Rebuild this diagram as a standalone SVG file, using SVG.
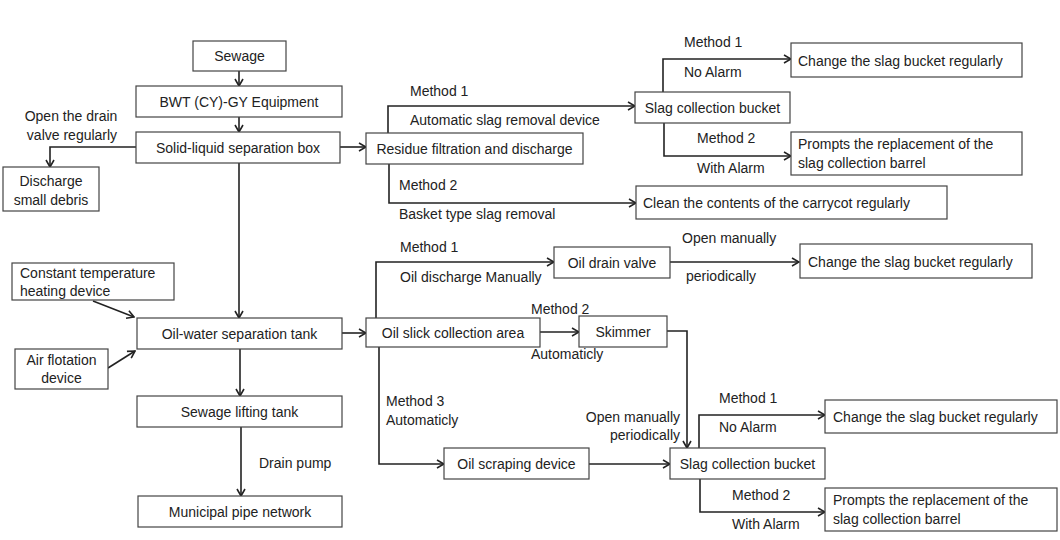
<svg xmlns="http://www.w3.org/2000/svg" width="1060" height="540" viewBox="0 0 1060 540">
<defs>
<marker id="arr" viewBox="0 0 10 10" refX="9" refY="5" markerWidth="10" markerHeight="10" orient="auto" markerUnits="userSpaceOnUse">
<path d="M2,1 L9,5 L2,9" fill="none" stroke="#222" stroke-width="1.6"/>
</marker>
</defs>
<style>
rect{fill:#fff;stroke:#444;stroke-width:1.2}
text{font-family:"Liberation Sans",Arial,sans-serif;font-size:14px;fill:#222}
.c{text-anchor:middle}
.r{text-anchor:end}
#connectors path{fill:none;stroke:#222;stroke-width:1.6;marker-end:url(#arr)}
</style>
<rect x="0" y="0" width="1060" height="540" style="fill:#fff;stroke:none"/>
<g id="connectors">
<path d="M239,71 L239,86"/>
<path d="M239,117 L239,132"/>
<path d="M136,147 L50,147 L50,167"/>
<path d="M340,147 L366,147"/>
<path d="M239,163 L239,318"/>
<path d="M388,133 L388,106 L635,106"/>
<path d="M389,164 L389,203 L636,203"/>
<path d="M663,92 L663,59 L791,59"/>
<path d="M664,123 L664,156 L791,156"/>
<path d="M93,301 L134,317"/>
<path d="M108,368 L135,351"/>
<path d="M240,349 L240,396"/>
<path d="M241,427 L241,496"/>
<path d="M342,333 L366,333"/>
<path d="M376,318 L376,262 L554,262"/>
<path d="M540,332 L579,332"/>
<path d="M379,347 L379,464 L444,464"/>
<path d="M670,262 L799,262"/>
<path d="M667,331 L687,331 L687,448"/>
<path d="M589,464 L670,464"/>
<path d="M699,448 L699,415 L825,415"/>
<path d="M700,479 L700,512 L825,512"/>
</g>
<g id="labels">
<text x="71" y="121" class="c">Open the drain</text>
<text x="72" y="140" class="c">valve regularly</text>
<text x="410" y="96">Method 1</text>
<text x="410" y="125">Automatic slag removal device</text>
<text x="399" y="190">Method 2</text>
<text x="399" y="219">Basket type slag removal</text>
<text x="684" y="47">Method 1</text>
<text x="684" y="77">No Alarm</text>
<text x="697" y="143">Method 2</text>
<text x="697" y="173">With Alarm</text>
<text x="259" y="468">Drain pump</text>
<text x="400" y="252">Method 1</text>
<text x="400" y="282">Oil discharge Manually</text>
<text x="531" y="314">Method 2</text>
<text x="531" y="359">Automaticly</text>
<text x="386" y="406">Method 3</text>
<text x="386" y="425">Automaticly</text>
<text x="680" y="422" class="r">Open manually</text>
<text x="680" y="440" class="r">periodically</text>
<text x="682" y="243">Open manually</text>
<text x="686" y="281">periodically</text>
<text x="719" y="403">Method 1</text>
<text x="719" y="432">No Alarm</text>
<text x="732" y="500">Method 2</text>
<text x="732" y="529">With Alarm</text>
</g>
<g id="sewage"><rect x="193" y="41" width="93" height="30"/><text x="239.5" y="61" class="c">Sewage</text></g>
<g id="bwt"><rect x="136" y="86" width="206" height="31"/><text x="239" y="106.5" class="c">BWT (CY)-GY Equipment</text></g>
<g id="solid-liquid"><rect x="136" y="132" width="204" height="31"/><text x="238" y="152.5" class="c">Solid-liquid separation box</text></g>
<g id="discharge-debris"><rect x="3" y="167" width="96" height="44"/><text x="51" y="186" class="c">Discharge</text><text x="51" y="205" class="c">small debris</text></g>
<g id="residue"><rect x="366" y="133" width="217" height="31"/><text x="474.5" y="153.5" class="c">Residue filtration and discharge</text></g>
<g id="slag-bucket-top"><rect x="635" y="92" width="155" height="31"/><text x="712.5" y="112.5" class="c">Slag collection bucket</text></g>
<g id="change-1"><rect x="791" y="43" width="231" height="34"/><text x="798" y="65.5">Change the slag bucket regularly</text></g>
<g id="prompts-1"><rect x="791" y="132" width="231" height="43"/><text x="798" y="149">Prompts the replacement of the</text><text x="798" y="168">slag collection barrel</text></g>
<g id="clean"><rect x="636" y="186" width="311" height="33"/><text x="643" y="207.5">Clean the contents of the carrycot regularly</text></g>
<g id="constant-temp"><rect x="12" y="263" width="162" height="37"/><text x="20" y="278">Constant temperature</text><text x="20" y="296">heating device</text></g>
<g id="air-flotation"><rect x="15" y="349" width="93" height="40"/><text x="61.5" y="365" class="c">Air flotation</text><text x="61.5" y="383" class="c">device</text></g>
<g id="oil-water"><rect x="137" y="318" width="205" height="31"/><text x="239.5" y="338.5" class="c">Oil-water separation tank</text></g>
<g id="lifting"><rect x="137" y="396" width="205" height="31"/><text x="239.5" y="416.5" class="c">Sewage lifting tank</text></g>
<g id="municipal"><rect x="138" y="496" width="204" height="31"/><text x="240" y="516.5" class="c">Municipal pipe network</text></g>
<g id="oil-slick"><rect x="366" y="318" width="174" height="29"/><text x="453" y="337.5" class="c">Oil slick collection area</text></g>
<g id="oil-drain-valve"><rect x="554" y="247" width="116" height="31"/><text x="612" y="267.5" class="c">Oil drain valve</text></g>
<g id="change-2"><rect x="800" y="244" width="232" height="34"/><text x="808" y="266.5">Change the slag bucket regularly</text></g>
<g id="skimmer"><rect x="579" y="316" width="88" height="31"/><text x="623" y="336.5" class="c">Skimmer</text></g>
<g id="oil-scraping"><rect x="444" y="448" width="145" height="31"/><text x="516.5" y="468.5" class="c">Oil scraping device</text></g>
<g id="slag-bucket-bottom"><rect x="670" y="448" width="155" height="31"/><text x="747.5" y="468.5" class="c">Slag collection bucket</text></g>
<g id="change-3"><rect x="825" y="400" width="232" height="33"/><text x="833" y="421.5">Change the slag bucket regularly</text></g>
<g id="prompts-2"><rect x="825" y="488" width="232" height="43"/><text x="833" y="505">Prompts the replacement of the</text><text x="833" y="524">slag collection barrel</text></g>
</svg>
